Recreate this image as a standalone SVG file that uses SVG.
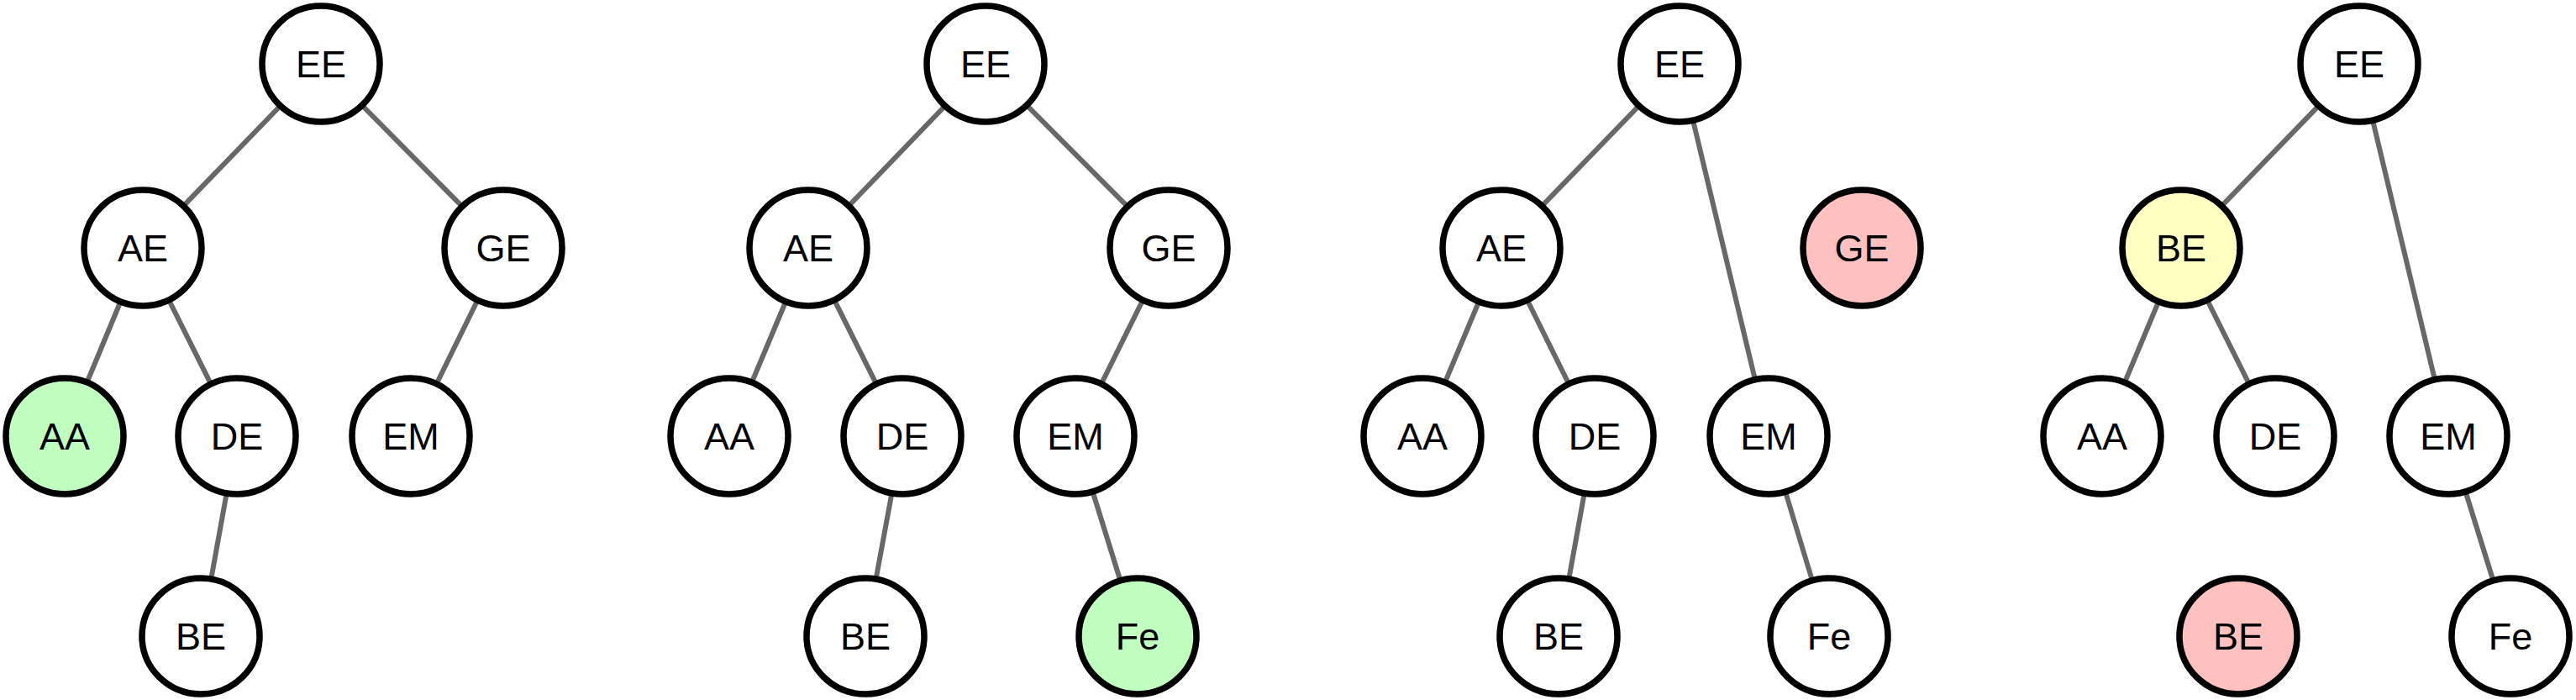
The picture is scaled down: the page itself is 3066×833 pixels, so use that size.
<svg xmlns="http://www.w3.org/2000/svg" width="3066" height="833" viewBox="0 0 3066 833">
<style>
.e{stroke:#686868;stroke-width:6;stroke-linecap:round;fill:none}
.n ellipse{fill:#fff;stroke:#000;stroke-width:7.5}
.n.g ellipse{fill:#c0ffc0}
.n.r ellipse{fill:#ffc0c0}
.n.y ellipse{fill:#ffffc2}
.n text{font-family:"Liberation Sans",Arial,sans-serif;font-size:45px;text-anchor:middle;fill:#000}
</style>
<rect width="3066" height="833" fill="#fff"/>
<g id="connectors">
<!-- panel 1 -->
<line class="e" x1="382" y1="76" x2="170" y2="295"/>
<line class="e" x1="382" y1="76" x2="599" y2="295"/>
<line class="e" x1="170" y1="295" x2="77" y2="519"/>
<line class="e" x1="170" y1="295" x2="282" y2="519"/>
<line class="e" x1="282" y1="519" x2="239" y2="757"/>
<line class="e" x1="599" y1="295" x2="489" y2="519"/>
<!-- panel 2 -->
<line class="e" x1="1173" y1="76" x2="962" y2="295"/>
<line class="e" x1="1173" y1="76" x2="1391" y2="295"/>
<line class="e" x1="962" y1="295" x2="868" y2="519"/>
<line class="e" x1="962" y1="295" x2="1074" y2="519"/>
<line class="e" x1="1074" y1="519" x2="1030" y2="757"/>
<line class="e" x1="1391" y1="295" x2="1280" y2="519"/>
<line class="e" x1="1280" y1="519" x2="1354" y2="757"/>
<!-- panel 3 -->
<line class="e" x1="1999" y1="76" x2="1787" y2="295"/>
<line class="e" x1="1999" y1="76" x2="2105" y2="519"/>
<line class="e" x1="1787" y1="295" x2="1693" y2="519"/>
<line class="e" x1="1787" y1="295" x2="1898" y2="519"/>
<line class="e" x1="1898" y1="519" x2="1855" y2="757"/>
<line class="e" x1="2105" y1="519" x2="2177" y2="757"/>
<!-- panel 4 -->
<line class="e" x1="2808" y1="76" x2="2596" y2="295"/>
<line class="e" x1="2808" y1="76" x2="2914" y2="519"/>
<line class="e" x1="2596" y1="295" x2="2502" y2="519"/>
<line class="e" x1="2596" y1="295" x2="2708" y2="519"/>
<line class="e" x1="2914" y1="519" x2="2988" y2="757"/>
</g>
<!-- panel 1 nodes -->
<g id="p1-EE" class="n"><ellipse cx="382" cy="76" rx="70" ry="69"/><text x="382" y="92">EE</text></g>
<g id="p1-AE" class="n"><ellipse cx="170" cy="295" rx="70" ry="69"/><text x="170" y="311">AE</text></g>
<g id="p1-GE" class="n"><ellipse cx="599" cy="295" rx="70" ry="69"/><text x="599" y="311">GE</text></g>
<g id="p1-AA" class="n g"><ellipse cx="77" cy="519" rx="70" ry="69"/><text x="77" y="535">AA</text></g>
<g id="p1-DE" class="n"><ellipse cx="282" cy="519" rx="70" ry="69"/><text x="282" y="535">DE</text></g>
<g id="p1-EM" class="n"><ellipse cx="489" cy="519" rx="70" ry="69"/><text x="489" y="535">EM</text></g>
<g id="p1-BE" class="n"><ellipse cx="239" cy="757" rx="70" ry="69"/><text x="239" y="773">BE</text></g>
<!-- panel 2 nodes -->
<g id="p2-EE" class="n"><ellipse cx="1173" cy="76" rx="70" ry="69"/><text x="1173" y="92">EE</text></g>
<g id="p2-AE" class="n"><ellipse cx="962" cy="295" rx="70" ry="69"/><text x="962" y="311">AE</text></g>
<g id="p2-GE" class="n"><ellipse cx="1391" cy="295" rx="70" ry="69"/><text x="1391" y="311">GE</text></g>
<g id="p2-AA" class="n"><ellipse cx="868" cy="519" rx="70" ry="69"/><text x="868" y="535">AA</text></g>
<g id="p2-DE" class="n"><ellipse cx="1074" cy="519" rx="70" ry="69"/><text x="1074" y="535">DE</text></g>
<g id="p2-EM" class="n"><ellipse cx="1280" cy="519" rx="70" ry="69"/><text x="1280" y="535">EM</text></g>
<g id="p2-BE" class="n"><ellipse cx="1030" cy="757" rx="70" ry="69"/><text x="1030" y="773">BE</text></g>
<g id="p2-Fe" class="n g"><ellipse cx="1354" cy="757" rx="70" ry="69"/><text x="1354" y="773">Fe</text></g>
<!-- panel 3 nodes -->
<g id="p3-EE" class="n"><ellipse cx="1999" cy="76" rx="70" ry="69"/><text x="1999" y="92">EE</text></g>
<g id="p3-AE" class="n"><ellipse cx="1787" cy="295" rx="70" ry="69"/><text x="1787" y="311">AE</text></g>
<g id="p3-GE" class="n r"><ellipse cx="2216" cy="295" rx="70" ry="69"/><text x="2216" y="311">GE</text></g>
<g id="p3-AA" class="n"><ellipse cx="1693" cy="519" rx="70" ry="69"/><text x="1693" y="535">AA</text></g>
<g id="p3-DE" class="n"><ellipse cx="1898" cy="519" rx="70" ry="69"/><text x="1898" y="535">DE</text></g>
<g id="p3-EM" class="n"><ellipse cx="2105" cy="519" rx="70" ry="69"/><text x="2105" y="535">EM</text></g>
<g id="p3-BE" class="n"><ellipse cx="1855" cy="757" rx="70" ry="69"/><text x="1855" y="773">BE</text></g>
<g id="p3-Fe" class="n"><ellipse cx="2177" cy="757" rx="70" ry="69"/><text x="2177" y="773">Fe</text></g>
<!-- panel 4 nodes -->
<g id="p4-EE" class="n"><ellipse cx="2808" cy="76" rx="70" ry="69"/><text x="2808" y="92">EE</text></g>
<g id="p4-BE" class="n y"><ellipse cx="2596" cy="295" rx="70" ry="69"/><text x="2596" y="311">BE</text></g>
<g id="p4-AA" class="n"><ellipse cx="2502" cy="519" rx="70" ry="69"/><text x="2502" y="535">AA</text></g>
<g id="p4-DE" class="n"><ellipse cx="2708" cy="519" rx="70" ry="69"/><text x="2708" y="535">DE</text></g>
<g id="p4-EM" class="n"><ellipse cx="2914" cy="519" rx="70" ry="69"/><text x="2914" y="535">EM</text></g>
<g id="p4-BE2" class="n r"><ellipse cx="2664" cy="757" rx="70" ry="69"/><text x="2664" y="773">BE</text></g>
<g id="p4-Fe" class="n"><ellipse cx="2988" cy="757" rx="70" ry="69"/><text x="2988" y="773">Fe</text></g>
</svg>
